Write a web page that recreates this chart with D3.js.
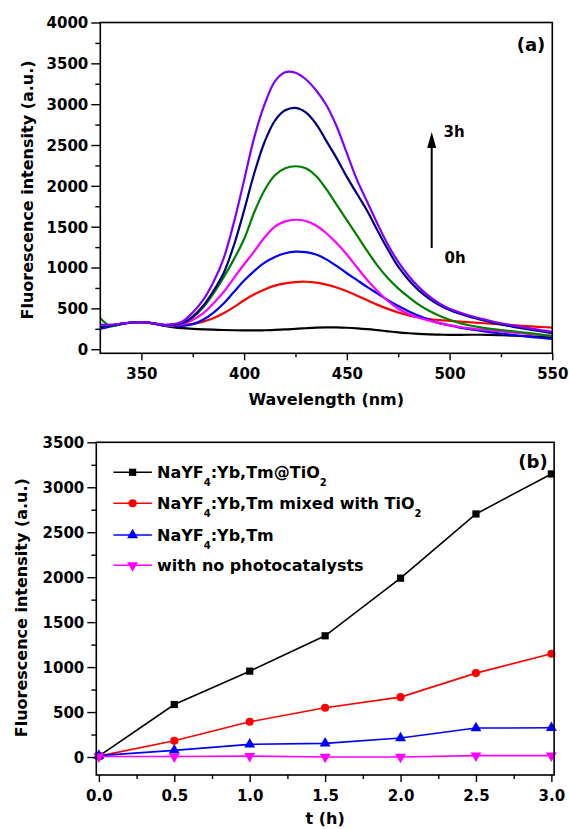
<!DOCTYPE html>
<html><head><meta charset="utf-8">
<script src="https://cdn.jsdelivr.net/npm/d3@7"></script>
<style>
body{margin:0;background:#fff;}
svg text{font-family:"DejaVu Sans",sans-serif;font-weight:bold;fill:#000;}
</style></head><body>
<svg id="c" width="569" height="829"></svg>
<script>
// ---------- Panel (a) data ----------
const wavelengths = [330,335,340,345,350,355,360,365,370,375,380,385,390,395,400,405,410,415,420,425,430,435,440,445,450,455,460,465,470,475,480,485,490,495,500,505,510,515,520,525,530,535,540,545,550];
const spec0h = [262,288,310,327,332,320,292,270,258,250,244,239,235,232,230,230,232,236,242,249,257,264,268,267,263,256,246,233,219,206,196,188,182,178,176,176,177,177,175,171,167,162,157,152,148];
const spec1 = [265,290,310,327,332,320,298,290,293,310,338,380,440,515,600,672,732,778,806,822,826,815,790,755,710,655,598,543,494,450,415,390,370,357,347,338,330,321,312,303,295,287,279,272,265];
const spec2 = [250,280,305,324,330,318,296,284,285,305,360,445,560,700,840,960,1060,1130,1175,1195,1188,1160,1100,1020,930,845,760,680,600,530,465,410,360,320,290,265,245,226,208,192,177,162,149,137,126];
const spec3 = [265,290,310,327,332,320,298,290,305,360,440,560,700,870,1040,1200,1370,1500,1565,1585,1570,1515,1420,1300,1160,1000,845,710,590,495,430,385,350,320,295,272,255,242,230,218,205,195,185,175,165];
const spec4 = [380,285,310,327,332,320,298,295,320,390,510,680,880,1100,1350,1680,1950,2130,2215,2240,2215,2120,1960,1770,1580,1390,1200,1020,870,745,640,545,470,410,360,320,290,268,250,235,222,208,193,176,158];
const spec5 = [268,290,310,327,332,320,298,300,320,400,530,710,930,1270,1700,2160,2540,2800,2925,2955,2900,2760,2550,2340,2110,1900,1690,1450,1220,1010,850,720,620,540,480,435,395,362,332,305,280,258,237,217,198];
const spec3h = [300,300,312,327,332,320,300,305,340,450,600,820,1110,1550,2070,2600,3000,3280,3390,3385,3305,3170,2990,2730,2400,2070,1800,1530,1280,1070,900,760,650,560,495,450,410,375,345,318,295,272,252,232,212];
const spectra = [spec0h, spec1, spec2, spec3, spec4, spec5, spec3h];
const spectraColors = ["#000000","#ff0000","#0000ff","#ff00ff","#008000","#000080","#8000ff"];
const aXTicks = [350,400,450,500,550];
const aXMinor = [375,425,475,525];
const aYTicks = [0,500,1000,1500,2000,2500,3000,3500,4000];
const aYMinor = [250,750,1250,1750,2250,2750,3250,3750];

// ---------- Panel (b) data ----------
const times = [0,0.5,1,1.5,2,2.5,3];
const coreShell = [10,584,955,1348,1989,2703,3148];
const mixed = [10,181,392,548,666,933,1148];
const bare = [15,74,141,152,211,322,325];
const blank = [5,5,10,0,0,15,15];
const seriesB = [coreShell, mixed, bare, blank];
const seriesBLabels = [
  [["NaYF",""],["4","sub"],[":Yb,Tm@TiO",""],["2","sub"]],
  [["NaYF",""],["4","sub"],[":Yb,Tm mixed with TiO",""],["2","sub"]],
  [["NaYF",""],["4","sub"],[":Yb,Tm",""]],
  [["with no photocatalysts",""]]
];
const seriesBColors = ["#000000","#ff0000","#0000ff","#ff00ff"];
const seriesBSymbols = [d3.symbolSquare, d3.symbolCircle, d3.symbolTriangle, d3.symbolTriangle];
const bXTicks = [0,0.5,1,1.5,2,2.5,3];
const bXMinor = [0.25,0.75,1.25,1.75,2.25,2.75];
const bYTicks = [0,500,1000,1500,2000,2500,3000,3500];
const bYMinor = [250,750,1250,1750,2250,2750,3250];

const svg = d3.select("#c");

function frameAndAxes(L, R, T, B, x, y, xt, xm, yt, ym, xfmt) {
  const g = svg.append("g");
  g.append("g").attr("transform",`translate(0,${B})`)
    .call(d3.axisBottom(x).tickValues(xm).tickSize(4).tickSizeOuter(0).tickFormat(""));
  g.append("g").attr("transform",`translate(${L},0)`)
    .call(d3.axisLeft(y).tickValues(ym).tickSize(5).tickSizeOuter(0).tickFormat(""));
  const gx = g.append("g").attr("transform",`translate(0,${B})`)
    .call(d3.axisBottom(x).tickValues(xt).tickSize(7).tickSizeOuter(0).tickFormat(xfmt));
  gx.selectAll("text").attr("y",26).attr("dy",null).style("font-size","15px");
  const gy = g.append("g").attr("transform",`translate(${L},0)`)
    .call(d3.axisLeft(y).tickValues(yt).tickSize(9).tickSizeOuter(0).tickFormat(d3.format("d")));
  gy.selectAll("text").attr("x",-12).attr("dy","0.36em").style("font-size","15px");
  g.selectAll(".domain").remove();
  g.selectAll(".tick line").attr("stroke","#000").attr("stroke-width",1.4);
  g.append("rect").attr("x",L).attr("y",T).attr("width",R-L).attr("height",B-T)
    .attr("fill","none").attr("stroke","#000").attr("stroke-width",1.6);
}

// ---------- Panel (a) ----------
const aL=100.3, aR=552.3, aT=22.5, aB=353.3;
const xa = d3.scaleLinear().domain([330,550]).range([aL,aR]);
const ya = d3.scaleLinear().domain([-50,4000]).range([aB,aT]);
svg.append("clipPath").attr("id","clipA").append("rect")
  .attr("x",aL).attr("y",aT).attr("width",aR-aL).attr("height",aB-aT);
const lineA = d3.line().x((d,i)=>xa(wavelengths[i])).y(d=>ya(d)).curve(d3.curveCatmullRom.alpha(0.5));
svg.append("g").attr("clip-path","url(#clipA)").selectAll("path").data(spectra).join("path")
  .attr("d",lineA).attr("fill","none").attr("stroke",(d,i)=>spectraColors[i]).attr("stroke-width",2.2);
frameAndAxes(aL,aR,aT,aB,xa,ya,aXTicks,aXMinor,aYTicks,aYMinor,d3.format("d"));
svg.append("text").attr("transform",`translate(33,${(aT+aB)/2 + 2}) rotate(-90)`)
  .attr("text-anchor","middle").style("font-size","16px").text("Fluorescence intensity (a.u.)");
svg.append("text").attr("x",(aL+aR)/2).attr("y",405).attr("text-anchor","middle")
  .style("font-size","16px").text("Wavelength (nm)");
svg.append("text").attr("x",531).attr("y",51).attr("text-anchor","middle")
  .style("font-size","18px").text("(a)");
svg.append("line").attr("x1",431.7).attr("x2",431.7).attr("y1",248).attr("y2",145)
  .attr("stroke","#000").attr("stroke-width",2);
svg.append("path").attr("d","M431.7,132 L427.2,148 L436.2,148 Z").attr("fill","#000");
svg.append("text").attr("x",443.5).attr("y",137).style("font-size","15px").text("3h");
svg.append("text").attr("x",444.5).attr("y",263).style("font-size","15px").text("0h");

// ---------- Panel (b) ----------
const bL=96.3, bR=554.1, bT=442.3, bB=775;
const xb = d3.scaleLinear().domain([-0.017,3.018]).range([bL,bR]);
const yb = d3.scaleLinear().domain([-200,3500]).range([bB,bT]);
const lineB = d3.line().x((d,i)=>xb(times[i])).y(d=>yb(d));
const gb = svg.append("g");
seriesB.forEach((s,k)=>{
  gb.append("path").attr("d",lineB(s)).attr("fill","none")
    .attr("stroke",seriesBColors[k]).attr("stroke-width",1.6);
});
seriesB.forEach((s,k)=>{
  const sym = d3.symbol().type(seriesBSymbols[k]).size(52);
  gb.selectAll(null).data(s).join("path")
    .attr("transform",(d,i)=>`translate(${xb(times[i])},${yb(d)})${k===3?" rotate(180)":""}`)
    .attr("d",sym).attr("fill",seriesBColors[k]);
});
frameAndAxes(bL,bR,bT,bB,xb,yb,bXTicks,bXMinor,bYTicks,bYMinor,d3.format(".1f"));
svg.append("text").attr("transform",`translate(27,${(bT+bB)/2 - 1}) rotate(-90)`)
  .attr("text-anchor","middle").style("font-size","16px").text("Fluorescence intensity (a.u.)");
svg.append("text").attr("x",(bL+bR)/2).attr("y",824).attr("text-anchor","middle")
  .style("font-size","16px").text("t (h)");
svg.append("text").attr("x",533).attr("y",468).attr("text-anchor","middle")
  .style("font-size","18px").text("(b)");

// legend
const legY = [472.3, 503.3, 535, 565.3];
seriesB.forEach((s,k)=>{
  const yy = legY[k];
  svg.append("line").attr("x1",113.4).attr("x2",151.9).attr("y1",yy).attr("y2",yy)
    .attr("stroke",seriesBColors[k]).attr("stroke-width",1.6);
  svg.append("path").attr("transform",`translate(132.6,${yy})${k===3?" rotate(180)":""}`)
    .attr("d",d3.symbol().type(seriesBSymbols[k]).size(52)).attr("fill",seriesBColors[k]);
  const t = svg.append("text").attr("x",157).attr("y",yy+5.8).style("font-size","16px");
  seriesBLabels[k].forEach(([str,kind],j)=>{
    if(kind==="sub"){
      t.append("tspan").attr("dy",8).style("font-size","10px").text(str);
    } else {
      const ts = t.append("tspan").text(str);
      if(j>0) ts.attr("dy",-8);
    }
  });
});
</script>
</body></html>
